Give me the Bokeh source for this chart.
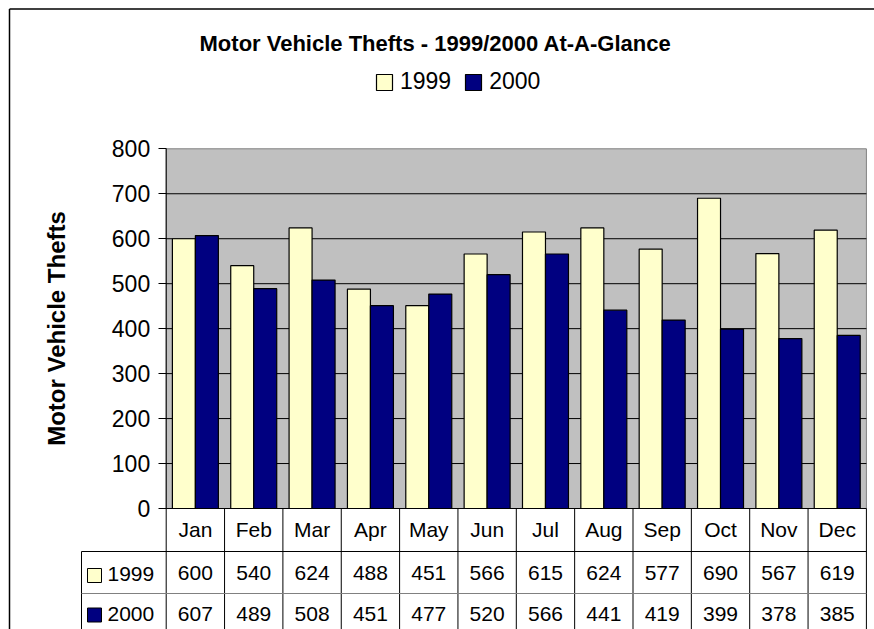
import math
from bokeh.plotting import figure
from bokeh.models import FixedTicker, Legend, LegendItem
from bokeh.core.properties import value
from bokeh.embed import file_html
from bokeh.resources import INLINE

# ---- data ----
months = ["Jan", "Feb", "Mar", "Apr", "May", "Jun", "Jul", "Aug", "Sep", "Oct", "Nov", "Dec"]
thefts_1999 = [600, 540, 624, 488, 451, 566, 615, 624, 577, 690, 567, 619]
thefts_2000 = [607, 489, 508, 451, 477, 520, 566, 441, 419, 399, 378, 385]
series_names = ["1999", "2000"]
y_ticks = [0, 100, 200, 300, 400, 500, 600, 700, 800]
title_text = "Motor Vehicle Thefts - 1999/2000 At-A-Glance"
y_label = "Motor Vehicle Thefts"

# ---- layout constants (page pixels) ----
W, H = 874, 629
CW = 58.35            # px per category
PLOT_LEFT = 165.7     # page x of category 0 edge
ZERO_Y = 508.0        # page y of value 0
PY = (508.0 - 148.3) / 800.0  # px per unit value

X0 = -PLOT_LEFT / CW
X1 = X0 + W / CW
Y1 = 800 + 148.3 / PY
Y0 = -(H - ZERO_Y) / PY


def px2x(px):
    return (px - PLOT_LEFT) / CW


def px2y(py):
    return (ZERO_Y - py) / PY


FONT = value("Liberation Sans")
C1999 = "#FFFFCC"
C2000 = "#000080"

p = figure(width=W, height=H, x_range=(X0, X1), y_range=(Y0, Y1),
           output_backend="svg", toolbar_location=None, min_border=0,
           background_fill_color="white", border_fill_color="white")
p.outline_line_color = None
p.xaxis.visible = False
p.grid.visible = False

n = len(months)
idx = list(range(n))

# outer chart border (left and top; right/bottom out of view)
p.segment(x0=[px2x(9), px2x(9)], x1=[px2x(9), X1 + 1], y0=[Y0 - 1, px2y(8.5)],
          y1=[px2y(8.5), px2y(8.5)], line_color="black", line_width=1.5)

# gray plot area
p.quad(left=[0], right=[n], bottom=[0], top=[y_ticks[-1]],
       fill_color="#C0C0C0", line_color="#808080", line_width=1)
# grid lines
p.segment(x0=[0] * (len(y_ticks) - 2), x1=[n] * (len(y_ticks) - 2),
          y0=y_ticks[1:-1], y1=y_ticks[1:-1], line_color="black", line_width=1)

# bars
bw = 0.394
r1 = p.vbar(x=[i + 0.5 - bw / 2 for i in idx], top=thefts_1999, bottom=0, width=bw,
            fill_color=C1999, line_color="black", line_width=1.2)
r2 = p.vbar(x=[i + 0.5 + bw / 2 for i in idx], top=thefts_2000, bottom=0, width=bw,
            fill_color=C2000, line_color="black", line_width=1.2)

# axis lines (left edge and baseline)
p.segment(x0=[0], x1=[n], y0=[0], y1=[0], line_color="black", line_width=1)
p.segment(x0=[0], x1=[0], y0=[y_ticks[-1]], y1=[Y0], line_color="black", line_width=1)

# y axis at category edge 0
ax = p.yaxis[0]
ax.fixed_location = 0
ax.ticker = FixedTicker(ticks=y_ticks)
ax.axis_line_color = None
ax.major_tick_out = 8
ax.major_tick_in = 0
ax.minor_tick_line_color = None
ax.major_tick_line_color = "black"
ax.major_label_text_font = "Liberation Sans"
ax.major_label_text_font_size = "23px"
ax.major_label_text_color = "black"
ax.major_label_standoff = 8

# ---- data table ----
y_line1 = px2y(551)
y_line2 = px2y(593)
x_tab_left = px2x(81)
p.segment(x0=[i for i in range(1, n + 1)], x1=[i for i in range(1, n + 1)],
          y0=[0] * n, y1=[Y0] * n, line_color="black", line_width=1)
p.segment(x0=[x_tab_left], x1=[x_tab_left], y0=[y_line1], y1=[Y0], line_color="black", line_width=1)
p.segment(x0=[x_tab_left], x1=[n], y0=[y_line1], y1=[y_line1], line_color="black", line_width=1)
p.segment(x0=[x_tab_left], x1=[n], y0=[y_line2], y1=[y_line2], line_color="#808080", line_width=1)

cx = [i + 0.5 for i in idx]
p.text(x=cx, y=[px2y(529)] * n, text=months, text_font=FONT, text_font_size="21px",
       text_align="center", text_baseline="middle", text_color="black")
p.text(x=cx, y=[px2y(572.5)] * n, text=[str(v) for v in thefts_1999], text_font=FONT,
       text_font_size="21px", text_align="center", text_baseline="middle", text_color="black")
p.text(x=cx, y=[px2y(613.5)] * n, text=[str(v) for v in thefts_2000], text_font=FONT,
       text_font_size="21px", text_align="center", text_baseline="middle", text_color="black")

# row labels with keys
p.rect(x=[px2x(94), px2x(94)], y=[px2y(575), px2y(614.5)], width=14, height=14,
       width_units="screen", height_units="screen",
       fill_color=[C1999, C2000], line_color="black", line_width=1)
p.text(x=[px2x(107), px2x(107)], y=[px2y(573), px2y(613.5)], text=series_names,
       text_font=FONT, text_font_size="21px", text_align="left", text_baseline="middle",
       text_color="black")

# ---- title / axis label ----
p.text(x=[px2x(435)], y=[px2y(43)], text=[title_text], text_font=FONT,
       text_font_size="22px", text_font_style="bold", text_align="center",
       text_baseline="middle", text_color="black")
p.text(x=[px2x(56)], y=[px2y(328)], text=[y_label], angle=math.pi / 2, text_font=FONT,
       text_font_size="24px", text_font_style="bold", text_align="center",
       text_baseline="middle", text_color="black")

# legend
legend = Legend(items=[LegendItem(label=series_names[0], renderers=[r1]),
                       LegendItem(label=series_names[1], renderers=[r2])],
                orientation="horizontal", location=(374, 534),
                glyph_width=20, glyph_height=20, label_standoff=6, spacing=12,
                padding=0, margin=0, border_line_color=None, background_fill_alpha=0,
                label_text_font="Liberation Sans", label_text_font_size="23px",
                label_text_color="black", label_height=20)
p.add_layout(legend)

open("out.html", "w").write(file_html(p, INLINE))
